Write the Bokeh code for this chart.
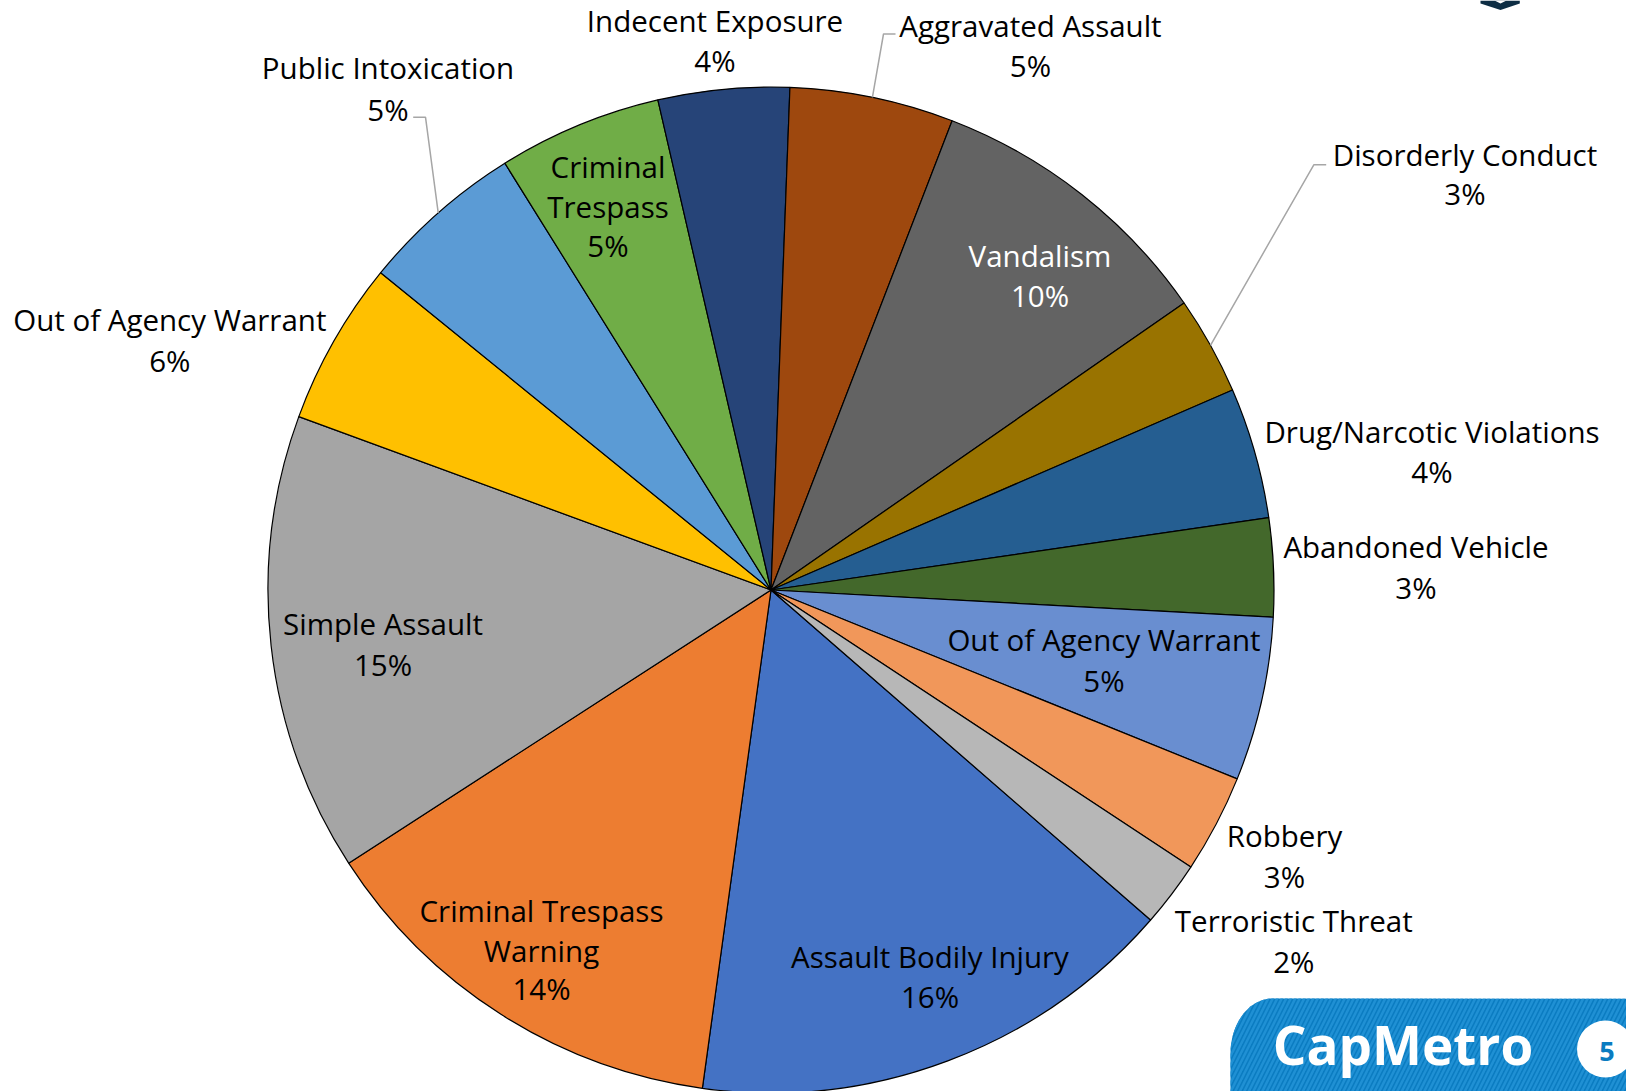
import numpy as np
from bokeh.plotting import figure
from bokeh.models import ColumnDataSource, Range1d
from bokeh.core.properties import value
from bokeh.embed import file_html
from bokeh.resources import INLINE

# ---------------- data (Excel series order) ----------------
categories = ["Assault Bodily Injury", "Criminal Trespass Warning", "Simple Assault",
              "Out of Agency Warrant", "Public Intoxication", "Criminal Trespass",
              "Indecent Exposure", "Aggravated Assault", "Vandalism", "Disorderly Conduct",
              "Drug/Narcotic Violations", "Abandoned Vehicle", "Out of Agency Warrant",
              "Robbery", "Terroristic Threat"]
counts = [15, 13, 14, 5, 5, 5, 4, 5, 9, 3, 4, 3, 5, 3, 2]
pct_labels = ["16%", "14%", "15%", "6%", "5%", "5%", "4%", "5%", "10%", "3%",
              "4%", "3%", "5%", "3%", "2%"]
colors = ["#4472C4", "#ED7D31", "#A5A5A5", "#FFC000", "#5B9BD5", "#70AD47", "#264478",
          "#9E480E", "#636363", "#997300", "#255E91", "#43682B", "#698ED0", "#F1975A",
          "#B7B7B7"]
label_colors = ["#000000"] * 8 + ["#FFFFFF"] + ["#000000"] * 6
wraps = {1: ["Criminal Trespass", "Warning"], 5: ["Criminal", "Trespass"]}
FIRST_SLICE_ANGLE = 131.0  # degrees, clockwise from 12 o'clock

# ---------------- layout (reference pixel space, y down) ----------------
CX, CY, R = 770.5, 589.5, 503.0
FONT = "Open Sans"
FS = 29.5
MID_SHIFT = 2.0  # 'middle' baseline sits slightly above cap centre
label_xy = [
    (929.5, [958, 998]),
    (541.0, [912, 952, 990]),
    (382.5, [625, 665.5]),
    (169.3, [320.7, 361.5]),
    (387.5, [69, 110.8]),
    (607.5, [168.3, 208.3, 246.7]),
    (714.5, [22, 62]),
    (1030.0, [26.7, 66.7]),
    (1039.5, [256.7, 296.7]),
    (1464.5, [156.3, 195]),
    (1431.5, [432.5, 473]),
    (1415.5, [548.3, 589]),
    (1103.5, [641, 681.5]),
    (1284.0, [836.7, 878]),
    (1293.3, [921.7, 963.3]),
]
# leader lines: slice index -> (elbow, end) in reference pixels
leaders = {7: ((883.0, 33.5), (895.0, 33.5)),
           4: ((425.0, 116.7), (412.7, 116.7)),
           9: ((1313.3, 164.3), (1325.7, 164.3))}

W, H = 1626, 1091
p = figure(width=W, height=H, output_backend="svg", toolbar_location=None,
           x_range=Range1d(0, W), y_range=Range1d(-H, 0),
           min_border=0)
p.axis.visible = False
p.grid.visible = False
p.outline_line_color = None
p.background_fill_color = "white"
p.border_fill_color = "white"

total = float(sum(counts))
sweep = np.array(counts) / total * 360.0
theta_start = FIRST_SLICE_ANGLE + np.concatenate([[0], np.cumsum(sweep)[:-1]])
theta_end = theta_start + sweep
src = ColumnDataSource(dict(
    start=np.deg2rad(90.0 - theta_end), end=np.deg2rad(90.0 - theta_start),
    color=colors, cat=categories))
p.wedge(x=CX, y=-CY, radius=R, start_angle="start", end_angle="end",
        direction="anticlock", fill_color="color",
        line_color="black", line_width=1.2, source=src)

# leader lines
for i, (elbow, end) in leaders.items():
    mid = np.deg2rad((theta_start[i] + theta_end[i]) / 2.0)
    ex, ey = CX + R * np.sin(mid), CY - R * np.cos(mid)
    p.line([ex, elbow[0], end[0]], [-ey, -elbow[1], -end[1]],
           line_color="#A6A6A6", line_width=1.5)

# labels
tx, ty, tt, tc = [], [], [], []
for i, cat in enumerate(categories):
    lines = wraps.get(i, [cat]) + [pct_labels[i]]
    x, ys = label_xy[i]
    for line, yc in zip(lines, ys):
        tx.append(x)
        ty.append(-(yc - MID_SHIFT))
        tt.append(line)
        tc.append(label_colors[i])
p.text(x=tx, y=ty, text=tt, text_color=tc, text_font=value(FONT),
       text_font_size=f"{FS}px", text_align="center", text_baseline="middle")

# ---------------- decorative branding ----------------
# top-right emblem tip
p.patch([1480, 1519.3, 1519.3, 1500, 1480], [0, 0, -3, -9.5, -3],
        fill_color="#0D2D44", line_color=None)
p.patch([1494, 1506, 1500], [0, 0, -3], fill_color="white", line_color=None)
# CapMetro badge
t = np.linspace(np.pi / 2, np.pi, 30)
bx = [1640] + list(1272 + 42 * np.cos(t)) + [1230, 1640]
by = [-998.3] + list(-(1053 - 55 * np.sin(t))) + [-1100, -1100]
p.patch(bx, by, fill_color="#0A7CC1", line_color=None,
        hatch_pattern="/", hatch_color="#1F90D4", hatch_scale=9, hatch_weight=2.5)
p.text(x=[1402.5], y=[-1044], text=["CapMetro"], text_color="white",
       text_font=value("Open Sans"), text_font_style="bold", text_font_size="53px",
       text_align="center", text_baseline="middle")
p.scatter(x=[1605], y=[-1048.5], size=57, marker="circle", fill_color="white",
          line_color=None)
p.text(x=[1606.5], y=[-1050.5], text=["5"], text_color="#0A7CC1",
       text_font=value("Open Sans"), text_font_style="bold", text_font_size="27px",
       text_align="center", text_baseline="middle")

open("out.html", "w").write(file_html(p, INLINE))
